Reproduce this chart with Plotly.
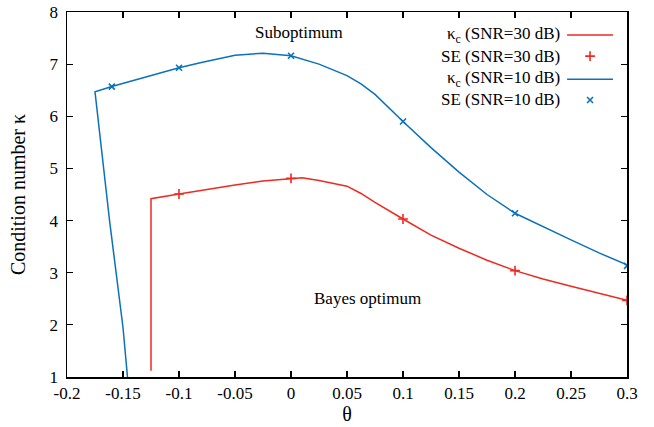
import plotly.graph_objects as go

# ---- data ----
theta_30 = [-0.125, -0.125, -0.1, -0.075, -0.05, -0.025, 0.0, 0.01, 0.025, 0.05, 0.0625, 0.075,
            0.1, 0.125, 0.15, 0.175, 0.2, 0.225, 0.25, 0.275, 0.3]
kappa_30 = [1.12, 4.42, 4.51, 4.60, 4.68, 4.76, 4.81, 4.82, 4.77, 4.66, 4.52, 4.35,
            4.03, 3.72, 3.47, 3.24, 3.04, 2.88, 2.74, 2.60, 2.47]

theta_10 = [-0.146, -0.150, -0.162, -0.175, -0.16, -0.13, -0.1, -0.08, -0.05, -0.025, 0.0,
            0.025, 0.05, 0.0625, 0.075, 0.1, 0.125, 0.15, 0.175, 0.2, 0.225, 0.25, 0.275, 0.3]
kappa_10 = [1.0, 1.95, 4.0, 6.47, 6.57, 6.75, 6.93, 7.03, 7.17, 7.21, 7.16,
            7.0, 6.78, 6.62, 6.42, 5.90, 5.40, 4.93, 4.50, 4.14, 3.88, 3.63, 3.38, 3.15]

se_theta_30 = [-0.1, 0.0, 0.1, 0.2, 0.3]
se_kappa_30 = [4.51, 4.81, 4.03, 3.04, 2.47]

se_theta_10 = [-0.16, -0.1, 0.0, 0.1, 0.2, 0.3]
se_kappa_10 = [6.57, 6.93, 7.16, 5.90, 4.14, 3.13]

x_ticks = [-0.2, -0.15, -0.1, -0.05, 0, 0.05, 0.1, 0.15, 0.2, 0.25, 0.3]
x_tick_labels = ["-0.2", "-0.15", "-0.1", "-0.05", "0", "0.05", "0.1", "0.15", "0.2", "0.25", "0.3"]
y_ticks = [1, 2, 3, 4, 5, 6, 7, 8]

legend_labels = ["κ<sub>c</sub> (SNR=30 dB)", "SE (SNR=30 dB)",
                 "κ<sub>c</sub> (SNR=10 dB)", "SE (SNR=10 dB)"]

RED = "#ee2a20"
BLUE = "#0a72ba"
FONT = "Liberation Serif, Times New Roman, serif"

fig = go.Figure()
fig.add_trace(go.Scatter(x=theta_30, y=kappa_30, mode="lines",
                         line=dict(color=RED, width=1.5), showlegend=False))
fig.add_trace(go.Scatter(x=se_theta_30, y=se_kappa_30, mode="markers",
                         marker=dict(symbol="cross-thin", size=7, color=RED,
                                     line=dict(color=RED, width=1.6)), showlegend=False))
fig.add_trace(go.Scatter(x=theta_10, y=kappa_10, mode="lines",
                         line=dict(color=BLUE, width=1.5), showlegend=False))
fig.add_trace(go.Scatter(x=se_theta_10, y=se_kappa_10, mode="markers",
                         marker=dict(symbol="x-thin", size=6, color=BLUE,
                                     line=dict(color=BLUE, width=1.6)), showlegend=False))

# legend samples on an overlay axis (0..1 in both directions)
leg_y = [0.937, 0.879, 0.816, 0.759]
fig.add_trace(go.Scatter(x=[0.893, 0.975], y=[leg_y[0]] * 2, mode="lines",
                         line=dict(color=RED, width=1.5), xaxis="x2", yaxis="y2", showlegend=False))
fig.add_trace(go.Scatter(x=[0.934], y=[leg_y[1]], mode="markers",
                         marker=dict(symbol="cross-thin", size=7, color=RED,
                                     line=dict(color=RED, width=1.6)),
                         xaxis="x2", yaxis="y2", showlegend=False))
fig.add_trace(go.Scatter(x=[0.893, 0.975], y=[leg_y[2]] * 2, mode="lines",
                         line=dict(color=BLUE, width=1.5), xaxis="x2", yaxis="y2", showlegend=False))
fig.add_trace(go.Scatter(x=[0.934], y=[leg_y[3]], mode="markers",
                         marker=dict(symbol="x-thin", size=6, color=BLUE,
                                     line=dict(color=BLUE, width=1.6)),
                         xaxis="x2", yaxis="y2", showlegend=False))

annotations = []
for lab, yy in zip(legend_labels, leg_y):
    annotations.append(dict(text=lab, x=0.884, y=yy, xref="paper", yref="paper",
                            xanchor="right", yanchor="middle", showarrow=False,
                            font=dict(family=FONT, size=17, color="black")))
annotations.append(dict(text="Suboptimum", x=0.007, y=7.6, xref="x", yref="y",
                        showarrow=False, font=dict(family=FONT, size=17, color="black")))
annotations.append(dict(text="Bayes optimum", x=0.068, y=2.5, xref="x", yref="y",
                        showarrow=False, font=dict(family=FONT, size=17, color="black")))

axis_common = dict(showline=True, linecolor="black", linewidth=1.5, mirror="allticks",
                   ticks="inside", ticklen=6, tickcolor="black", tickwidth=1.2,
                   showgrid=False, zeroline=False, automargin=False,
                   ticklabeloverflow="allow",
                   tickfont=dict(family=FONT, size=17, color="black"))

fig.update_layout(
    width=654, height=427,
    margin=dict(l=67, r=27, t=12, b=50),
    paper_bgcolor="white", plot_bgcolor="white",
    font=dict(family=FONT, size=17, color="black"),
    xaxis=dict(range=[-0.2, 0.3], tickvals=x_ticks, ticktext=x_tick_labels,
               title=dict(text="θ", font=dict(family=FONT, size=20), standoff=3),
               **axis_common),
    yaxis=dict(range=[1, 8], tickvals=y_ticks, ticklabelstandoff=4,
               title=dict(text="Condition number κ", font=dict(family=FONT, size=20), standoff=18),
               **axis_common),
    xaxis2=dict(overlaying="x", range=[0, 1], visible=False),
    yaxis2=dict(overlaying="y", range=[0, 1], visible=False),
    annotations=annotations,
    showlegend=False,
    hovermode=False,
)

# remove the default 8px page margin so the 654x427 figure fills the window exactly
fig.write_html("out.html", config={"displayModeBar": False, "staticPlot": True},
               post_script="document.body.style.margin='0';")
